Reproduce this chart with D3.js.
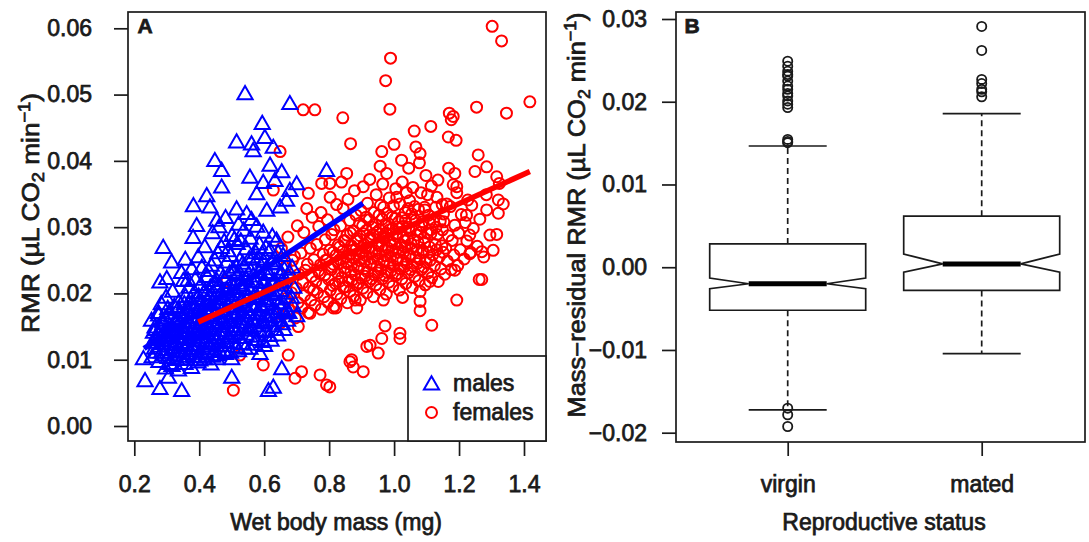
<!DOCTYPE html>
<html>
<head>
<meta charset="utf-8">
<script src="https://cdn.jsdelivr.net/npm/d3@7"></script>
<style>
  html, body { margin: 0; padding: 0; background: #fff; }
  svg { display: block; font-family: "Liberation Sans", Arial, sans-serif; }
  svg text { stroke: #1a1a1a; stroke-width: 0.75px; }
</style>
</head>
<body>
<svg id="chart" width="1089" height="542"></svg>
<script>
// Panel A: wet body mass (mg) vs RMR
const maleOuter = [
  [0.541,0.0502],[0.679,0.0487],[0.594,0.0457],[0.515,0.0429],[0.561,0.0426],[0.602,0.0436],[0.566,0.0416],[0.628,0.0421],
  [0.448,0.0401],[0.469,0.0386],[0.618,0.0394],[0.792,0.0386],[0.556,0.0376],[0.654,0.0384],[0.633,0.0371],[0.597,0.0368],
  [0.700,0.0366],[0.469,0.0361],[0.679,0.0356],[0.577,0.0351],[0.423,0.0348],[0.382,0.0333],[0.433,0.0331],[0.669,0.0341],
  [0.515,0.0328],[0.546,0.0321],[0.608,0.0326],[0.649,0.0331],[0.392,0.0303],[0.454,0.0311],
  [0.289,0.0270],[0.315,0.0248],[0.279,0.0218],[0.300,0.0223],[0.351,0.0220],[0.274,0.0172],[0.228,0.0102],[0.233,0.0069],
  [0.279,0.0057],[0.346,0.0054],[0.305,0.0074],[0.310,0.0095],[0.500,0.0074],[0.500,0.0102],[0.587,0.0110],[0.654,0.0087],
  [0.613,0.0054],[0.628,0.0059],[0.700,0.0167],[0.669,0.0175],[0.402,0.0100],[0.454,0.0102]
];
const maleCore = [
  [0.255,0.0105],[0.262,0.0118],[0.257,0.0127],[0.266,0.0135],[0.259,0.0142],[0.264,0.0150],[0.253,0.0160],
  [0.276,0.0098],[0.284,0.0112],[0.279,0.0121],[0.287,0.0130],[0.273,0.0138],[0.282,0.0147],[0.288,0.0155],[0.275,0.0168],[0.283,0.0185],
  [0.296,0.0088],[0.304,0.0104],[0.299,0.0116],[0.307,0.0124],[0.293,0.0133],[0.302,0.0141],[0.308,0.0152],[0.295,0.0163],[0.303,0.0178],[0.298,0.0195],
  [0.316,0.0092],[0.324,0.0108],[0.319,0.0119],[0.327,0.0128],[0.313,0.0137],[0.322,0.0146],[0.328,0.0156],[0.315,0.0166],[0.323,0.0181],[0.318,0.0204],
  [0.336,0.0085],[0.344,0.0101],[0.339,0.0114],[0.347,0.0125],[0.333,0.0134],[0.342,0.0143],[0.348,0.0151],[0.335,0.0161],[0.343,0.0172],[0.338,0.0188],[0.345,0.0232],
  [0.356,0.0095],[0.364,0.0110],[0.359,0.0122],[0.367,0.0131],[0.353,0.0140],[0.362,0.0149],[0.368,0.0158],[0.355,0.0168],[0.363,0.0179],[0.358,0.0196],[0.365,0.0221],[0.357,0.0252],
  [0.376,0.0089],[0.384,0.0105],[0.379,0.0118],[0.387,0.0129],[0.373,0.0138],[0.382,0.0147],[0.388,0.0156],[0.375,0.0165],[0.383,0.0175],[0.378,0.0186],[0.385,0.0202],[0.377,0.0238],[0.381,0.0285],
  [0.396,0.0097],[0.404,0.0112],[0.399,0.0124],[0.407,0.0135],[0.393,0.0145],[0.402,0.0154],[0.408,0.0163],[0.395,0.0172],[0.403,0.0183],[0.398,0.0197],[0.405,0.0214],[0.397,0.0256],
  [0.416,0.0102],[0.424,0.0117],[0.419,0.0129],[0.427,0.0140],[0.413,0.0150],[0.422,0.0159],[0.428,0.0168],[0.415,0.0178],[0.423,0.0190],[0.418,0.0205],[0.425,0.0226],[0.417,0.0271],
  [0.436,0.0094],[0.444,0.0113],[0.439,0.0126],[0.447,0.0138],[0.433,0.0148],[0.442,0.0157],[0.448,0.0166],[0.435,0.0176],[0.443,0.0187],[0.438,0.0199],[0.445,0.0215],[0.437,0.0243],[0.441,0.0292],
  [0.456,0.0108],[0.464,0.0122],[0.459,0.0134],[0.467,0.0145],[0.453,0.0155],[0.462,0.0164],[0.468,0.0174],[0.455,0.0185],[0.463,0.0197],[0.458,0.0211],[0.465,0.0232],[0.457,0.0262],[0.461,0.0301],
  [0.476,0.0115],[0.484,0.0128],[0.479,0.0140],[0.487,0.0151],[0.473,0.0161],[0.482,0.0171],[0.488,0.0181],[0.475,0.0193],[0.483,0.0206],[0.478,0.0222],[0.485,0.0248],[0.477,0.0279],[0.481,0.0315],
  [0.496,0.0112],[0.504,0.0126],[0.499,0.0139],[0.507,0.0150],[0.493,0.0160],[0.502,0.0170],[0.508,0.0180],[0.495,0.0191],[0.503,0.0203],[0.498,0.0217],[0.505,0.0236],[0.497,0.0258],[0.501,0.0288],
  [0.516,0.0120],[0.524,0.0134],[0.519,0.0146],[0.527,0.0157],[0.513,0.0167],[0.522,0.0177],[0.528,0.0188],[0.515,0.0200],[0.523,0.0213],[0.518,0.0229],[0.525,0.0251],[0.517,0.0276],[0.521,0.0305],
  [0.536,0.0125],[0.544,0.0139],[0.539,0.0151],[0.547,0.0162],[0.533,0.0172],[0.542,0.0183],[0.548,0.0195],[0.535,0.0208],[0.543,0.0223],[0.538,0.0242],[0.545,0.0268],[0.537,0.0296],
  [0.556,0.0118],[0.564,0.0136],[0.559,0.0149],[0.567,0.0161],[0.553,0.0172],[0.562,0.0183],[0.568,0.0194],[0.555,0.0206],[0.563,0.0219],[0.558,0.0235],[0.565,0.0256],[0.557,0.0284],[0.561,0.0312],
  [0.576,0.0131],[0.584,0.0145],[0.579,0.0158],[0.587,0.0170],[0.573,0.0181],[0.582,0.0193],[0.588,0.0205],[0.575,0.0218],[0.583,0.0233],[0.578,0.0252],[0.585,0.0275],[0.577,0.0302],
  [0.596,0.0128],[0.604,0.0143],[0.599,0.0156],[0.607,0.0168],[0.593,0.0180],[0.602,0.0192],[0.608,0.0204],[0.595,0.0217],[0.603,0.0232],[0.598,0.0249],[0.605,0.0270],[0.597,0.0293],
  [0.616,0.0137],[0.624,0.0152],[0.619,0.0165],[0.627,0.0177],[0.613,0.0189],[0.622,0.0201],[0.628,0.0214],[0.615,0.0229],[0.623,0.0246],[0.618,0.0266],[0.625,0.0287],
  [0.636,0.0146],[0.644,0.0160],[0.639,0.0173],[0.647,0.0186],[0.633,0.0199],[0.642,0.0213],[0.648,0.0228],[0.635,0.0245],[0.643,0.0262],[0.638,0.0281],
  [0.656,0.0155],[0.664,0.0171],[0.659,0.0186],[0.667,0.0201],[0.653,0.0218],[0.662,0.0237],[0.658,0.0258],
  [0.676,0.0172],[0.684,0.0195],[0.679,0.0231]
];
const maleDense = [
  [0.268,0.0112],[0.271,0.0131],[0.266,0.0146],
  [0.291,0.0108],[0.289,0.0125],[0.292,0.0143],[0.286,0.0160],
  [0.311,0.0112],[0.309,0.0129],[0.312,0.0146],[0.306,0.0171],
  [0.331,0.0101],[0.329,0.0123],[0.332,0.0141],[0.327,0.0160],[0.334,0.0176],
  [0.351,0.0106],[0.349,0.0127],[0.352,0.0145],[0.346,0.0163],[0.354,0.0185],
  [0.371,0.0114],[0.369,0.0134],[0.372,0.0152],[0.366,0.0171],[0.374,0.0192],[0.368,0.0210],
  [0.391,0.0117],[0.389,0.0140],[0.392,0.0160],[0.386,0.0179],[0.394,0.0193],[0.388,0.0222],
  [0.411,0.0121],[0.409,0.0143],[0.412,0.0165],[0.406,0.0186],[0.414,0.0201],[0.408,0.0240],
  [0.431,0.0125],[0.429,0.0146],[0.432,0.0168],[0.426,0.0189],[0.434,0.0210],[0.428,0.0235],
  [0.451,0.0129],[0.449,0.0151],[0.452,0.0171],[0.446,0.0192],[0.454,0.0220],[0.448,0.0251],
  [0.471,0.0133],[0.469,0.0156],[0.472,0.0177],[0.466,0.0200],[0.474,0.0225],[0.468,0.0270],
  [0.491,0.0136],[0.489,0.0158],[0.492,0.0182],[0.486,0.0206],[0.494,0.0232],[0.488,0.0265],
  [0.511,0.0141],[0.509,0.0163],[0.512,0.0186],[0.506,0.0210],[0.514,0.0240],[0.508,0.0282],
  [0.531,0.0145],[0.529,0.0167],[0.532,0.0191],[0.526,0.0216],[0.534,0.0246],[0.528,0.0280],
  [0.551,0.0148],[0.549,0.0171],[0.552,0.0196],[0.546,0.0222],[0.554,0.0253],
  [0.571,0.0152],[0.569,0.0176],[0.572,0.0200],[0.566,0.0227],[0.574,0.0262],
  [0.591,0.0157],[0.589,0.0181],[0.592,0.0206],[0.586,0.0233],[0.594,0.0261],
  [0.611,0.0160],[0.609,0.0184],[0.612,0.0210],[0.606,0.0238],
  [0.631,0.0166],[0.629,0.0192],[0.632,0.0220],[0.626,0.0250],
  [0.651,0.0178],[0.649,0.0205],[0.652,0.0232],
  [0.361,0.0102],[0.401,0.0106],[0.421,0.0110],[0.441,0.0106],[0.461,0.0114],[0.481,0.0110],[0.521,0.0114],[0.541,0.0118],
  [0.571,0.0124],[0.601,0.0122],[0.621,0.0130],[0.641,0.0138],[0.661,0.0146],[0.672,0.0160],[0.689,0.0182],[0.691,0.0210],[0.686,0.0240]
];
const femaleOuter = [
  [1.302,0.0603],[1.331,0.0581],[0.989,0.0555],[0.974,0.0521],[0.987,0.0478],[0.842,0.0465],[0.866,0.0426],[1.170,0.0472],
  [1.182,0.0467],[1.176,0.0462],[1.254,0.0481],[1.346,0.0472],[1.418,0.0489],[1.113,0.0452],[1.062,0.0445],[1.167,0.0436],
  [1.191,0.0431],[1.000,0.0425],[0.962,0.0414],[1.067,0.0421],[1.259,0.0409],[1.023,0.0401],[1.080,0.0411],[1.285,0.0391],
  [0.854,0.0381],[1.187,0.0381],[1.193,0.0361],[1.316,0.0376],[1.249,0.0384],[1.321,0.0341],[1.285,0.0326],[1.321,0.0321],[1.223,0.0318],
  [0.720,0.0477],[0.756,0.0477],[0.649,0.0414],[0.736,0.0351],[0.731,0.0328],[0.628,0.0356],[0.777,0.0366],[0.802,0.0366],
  [1.233,0.0288],[1.295,0.0288],[1.233,0.0260],[1.305,0.0265],[1.270,0.0263],[1.270,0.0221],[1.262,0.0221],[1.193,0.0190],
  [1.110,0.0218],[1.080,0.0203],[1.080,0.0188],[1.080,0.0174],[1.116,0.0152],[1.026,0.0194],[0.967,0.0190],[0.972,0.0151],
  [1.018,0.0140],[1.018,0.0132],[0.962,0.0132],[0.926,0.0122],[0.951,0.0110],[0.916,0.0120],[0.864,0.0097],[0.874,0.0089],
  [0.905,0.0082],[0.802,0.0059],[1.187,0.0235],[0.821,0.0178],[0.880,0.0190],
  [0.505,0.0054],[0.597,0.0092],[0.525,0.0107],[0.674,0.0107],[0.715,0.0082],[0.695,0.0072],[0.772,0.0077],[0.792,0.0062],
  [0.705,0.0150],[0.649,0.0155],[0.741,0.0170],[0.813,0.0178],[0.869,0.0100],[0.885,0.0178],[0.485,0.0218]
];
const femaleCore = [
  [0.656,0.0168],[0.664,0.0192],[0.659,0.0215],[0.667,0.0241],[0.653,0.0268],
  [0.676,0.0175],[0.684,0.0201],[0.679,0.0224],[0.687,0.0250],[0.673,0.0285],
  [0.696,0.0163],[0.704,0.0186],[0.699,0.0208],[0.707,0.0229],[0.693,0.0256],[0.702,0.0302],
  [0.716,0.0178],[0.724,0.0197],[0.719,0.0216],[0.727,0.0235],[0.713,0.0261],[0.722,0.0292],
  [0.736,0.0171],[0.744,0.0190],[0.739,0.0209],[0.747,0.0226],[0.733,0.0244],[0.742,0.0268],[0.748,0.0315],
  [0.756,0.0182],[0.764,0.0201],[0.759,0.0218],[0.767,0.0234],[0.753,0.0251],[0.762,0.0274],[0.768,0.0301],
  [0.776,0.0176],[0.784,0.0195],[0.779,0.0212],[0.787,0.0228],[0.773,0.0243],[0.782,0.0259],[0.788,0.0281],[0.775,0.0322],
  [0.796,0.0187],[0.804,0.0205],[0.799,0.0221],[0.807,0.0236],[0.793,0.0250],[0.802,0.0265],[0.808,0.0289],[0.795,0.0311],[0.803,0.0345],
  [0.816,0.0181],[0.824,0.0199],[0.819,0.0215],[0.827,0.0230],[0.813,0.0244],[0.822,0.0258],[0.828,0.0273],[0.815,0.0296],[0.823,0.0334],
  [0.836,0.0192],[0.844,0.0209],[0.839,0.0224],[0.847,0.0238],[0.833,0.0251],[0.842,0.0264],[0.848,0.0279],[0.835,0.0302],[0.843,0.0328],[0.838,0.0368],
  [0.856,0.0186],[0.864,0.0203],[0.859,0.0219],[0.867,0.0233],[0.853,0.0246],[0.862,0.0259],[0.868,0.0272],[0.855,0.0288],[0.863,0.0310],[0.858,0.0342],
  [0.876,0.0196],[0.884,0.0213],[0.879,0.0228],[0.887,0.0241],[0.873,0.0254],[0.882,0.0266],[0.888,0.0279],[0.875,0.0294],[0.883,0.0318],[0.878,0.0355],
  [0.896,0.0190],[0.904,0.0208],[0.899,0.0223],[0.907,0.0237],[0.893,0.0250],[0.902,0.0262],[0.908,0.0274],[0.895,0.0287],[0.903,0.0302],[0.898,0.0325],[0.905,0.0361],
  [0.916,0.0201],[0.924,0.0218],[0.919,0.0232],[0.927,0.0245],[0.913,0.0257],[0.922,0.0269],[0.928,0.0281],[0.915,0.0295],[0.923,0.0311],[0.918,0.0336],[0.925,0.0372],
  [0.936,0.0195],[0.944,0.0213],[0.939,0.0228],[0.947,0.0241],[0.933,0.0253],[0.942,0.0264],[0.948,0.0276],[0.935,0.0289],[0.943,0.0304],[0.938,0.0322],[0.945,0.0349],
  [0.956,0.0206],[0.964,0.0222],[0.959,0.0236],[0.967,0.0249],[0.953,0.0260],[0.962,0.0271],[0.968,0.0283],[0.955,0.0296],[0.963,0.0312],[0.958,0.0333],[0.965,0.0365],[0.957,0.0392],
  [0.976,0.0199],[0.984,0.0217],[0.979,0.0232],[0.987,0.0245],[0.973,0.0257],[0.982,0.0268],[0.988,0.0279],[0.975,0.0291],[0.983,0.0305],[0.978,0.0321],[0.985,0.0344],[0.977,0.0381],
  [0.996,0.0211],[1.004,0.0227],[0.999,0.0241],[1.007,0.0253],[0.993,0.0264],[1.002,0.0275],[1.008,0.0286],[0.995,0.0298],[1.003,0.0313],[0.998,0.0332],[1.005,0.0358],
  [1.016,0.0205],[1.024,0.0222],[1.019,0.0237],[1.027,0.0250],[1.013,0.0262],[1.022,0.0273],[1.028,0.0285],[1.015,0.0298],[1.023,0.0314],[1.018,0.0335],[1.025,0.0368],
  [1.036,0.0215],[1.044,0.0231],[1.039,0.0245],[1.047,0.0258],[1.033,0.0270],[1.042,0.0282],[1.048,0.0295],[1.035,0.0310],[1.043,0.0328],[1.038,0.0352],[1.045,0.0389],
  [1.056,0.0209],[1.064,0.0226],[1.059,0.0241],[1.067,0.0255],[1.053,0.0268],[1.062,0.0281],[1.068,0.0295],[1.055,0.0311],[1.063,0.0331],[1.058,0.0360],
  [1.076,0.0219],[1.084,0.0236],[1.079,0.0251],[1.087,0.0265],[1.073,0.0278],[1.082,0.0292],[1.088,0.0308],[1.075,0.0327],[1.083,0.0352],[1.078,0.0397],
  [1.096,0.0213],[1.104,0.0231],[1.099,0.0247],[1.107,0.0262],[1.093,0.0276],[1.102,0.0291],[1.108,0.0307],[1.095,0.0326],[1.103,0.0349],[1.098,0.0378],
  [1.116,0.0224],[1.124,0.0242],[1.119,0.0258],[1.127,0.0274],[1.113,0.0290],[1.122,0.0308],[1.128,0.0330],[1.115,0.0362],
  [1.136,0.0218],[1.144,0.0237],[1.139,0.0255],[1.147,0.0272],[1.133,0.0289],[1.142,0.0309],[1.148,0.0334],[1.135,0.0371],
  [1.156,0.0229],[1.164,0.0249],[1.159,0.0268],[1.167,0.0287],[1.153,0.0308],[1.162,0.0335],[1.168,0.0389],
  [1.176,0.0236],[1.184,0.0258],[1.179,0.0280],[1.187,0.0303],[1.173,0.0331],[1.182,0.0364],
  [1.196,0.0242],[1.204,0.0266],[1.199,0.0291],[1.207,0.0319],[1.193,0.0352],
  [1.216,0.0252],[1.224,0.0279],[1.219,0.0307],[1.227,0.0341],
  [1.236,0.0262],[1.244,0.0298],[1.239,0.0333],
  [1.256,0.0271],[1.264,0.0312],
  [1.276,0.0255],[1.284,0.0349],
  [1.316,0.0289],[1.324,0.0366],
  [1.336,0.0335]
];
const femaleDense = [
  [0.752,0.0205],[0.771,0.0230],[0.789,0.0250],
  [0.811,0.0212],[0.809,0.0240],[0.812,0.0262],
  [0.831,0.0218],[0.829,0.0245],[0.832,0.0270],
  [0.851,0.0210],[0.849,0.0232],[0.852,0.0255],[0.846,0.0280],
  [0.871,0.0220],[0.869,0.0243],[0.872,0.0265],[0.866,0.0291],
  [0.891,0.0216],[0.889,0.0238],[0.892,0.0259],[0.886,0.0283],[0.894,0.0306],
  [0.911,0.0226],[0.909,0.0248],[0.912,0.0268],[0.906,0.0290],[0.914,0.0315],
  [0.931,0.0222],[0.929,0.0244],[0.932,0.0263],[0.926,0.0284],[0.934,0.0300],
  [0.951,0.0231],[0.949,0.0252],[0.952,0.0272],[0.946,0.0292],[0.954,0.0318],
  [0.971,0.0227],[0.969,0.0248],[0.972,0.0266],[0.966,0.0286],[0.974,0.0302],[0.968,0.0330],
  [0.991,0.0234],[0.989,0.0255],[0.992,0.0273],[0.986,0.0296],[0.994,0.0315],
  [1.011,0.0230],[1.009,0.0250],[1.012,0.0268],[1.006,0.0290],[1.014,0.0308],[1.008,0.0345],
  [1.031,0.0240],[1.029,0.0262],[1.032,0.0279],[1.026,0.0301],[1.034,0.0322],
  [1.051,0.0236],[1.049,0.0256],[1.052,0.0275],[1.046,0.0300],[1.054,0.0320],[1.048,0.0340],
  [1.071,0.0245],[1.069,0.0265],[1.072,0.0288],[1.066,0.0310],
  [1.091,0.0240],[1.089,0.0262],[1.092,0.0284],[1.086,0.0302],[1.094,0.0330],
  [1.111,0.0250],[1.109,0.0270],[1.112,0.0296],[1.106,0.0318],
  [1.131,0.0266],[1.129,0.0300],[1.132,0.0345],
  [1.151,0.0262],[1.149,0.0296],[1.152,0.0320]
];
// fitted lines, endpoints as drawn
const maleFit = [[0.23,0.0117],[0.904,0.0336]];
const femaleFit = [[0.397,0.0157],[1.418,0.0384]];
const massTicks = [0.2,0.4,0.6,0.8,1.0,1.2,1.4];
const rmrTicks = [0,0.01,0.02,0.03,0.04,0.05,0.06];

// Panel B: notched boxplots of mass-residual RMR
const statusGroups = ['virgin','mated'];
const boxLow = [-0.01723,-0.01045];
const boxQ1 = [-0.0052,-0.0028];
const boxMedian = [-0.0020,0.0004];
const boxQ3 = [0.00282,0.00617];
const boxHigh = [0.01465,0.01856];
const notchLow = [-0.0026,-0.0006];
const notchHigh = [-0.0013,0.0016];
const virginOutliers = [0.0249,0.0243,0.0237,0.0233,0.0231,0.0225,0.0219,0.0215,0.0210,0.0207,0.0201,0.0197,0.0193,0.01545,0.0152,0.01505,-0.01703,-0.01783,-0.01925];
const matedOutliers = [0.0291,0.0262,0.0227,0.0222,0.0215,0.0212,0.0206];
const residTicks = [-0.02,-0.01,0,0.01,0.02,0.03];

const BLUE = '#0000ff', RED = '#ff0000', INK = '#1a1a1a';
const FS = 23;
const svg = d3.select('#chart');

// ---------- panel A ----------
const xA = d3.scaleLinear().domain([0.2, 1.4]).range([134.3, 524]);
const yA = d3.scaleLinear().domain([0, 0.06]).range([426, 28.3]);
const boxA = { l: 128, t: 12, r: 546, b: 441 };

const tri = d3.symbol().type(d3.symbolTriangle).size(100);
const pA = svg.append('g');
pA.selectAll('.fem').data(femaleOuter.concat(femaleCore, femaleDense)).join('circle')
  .attr('cx', d => xA(d[0])).attr('cy', d => yA(d[1])).attr('r', 5.5)
  .attr('fill', 'none').attr('stroke', RED).attr('stroke-width', 2);
pA.selectAll('.mal').data(maleOuter.concat(maleCore, maleDense)).join('path')
  .attr('d', tri).attr('transform', d => `translate(${xA(d[0])},${yA(d[1]) + 1.5})`)
  .attr('fill', 'none').attr('stroke', BLUE).attr('stroke-width', 2);

const fitLine = d3.line().x(d => xA(d[0])).y(d => yA(d[1]));
pA.append('path').attr('d', fitLine(maleFit)).attr('stroke', BLUE).attr('stroke-width', 5.5).attr('fill', 'none');
pA.append('path').attr('d', fitLine(femaleFit)).attr('stroke', RED).attr('stroke-width', 5.5).attr('fill', 'none');

svg.append('rect').attr('x', boxA.l).attr('y', boxA.t).attr('width', boxA.r - boxA.l).attr('height', boxA.b - boxA.t)
  .attr('fill', 'none').attr('stroke', INK).attr('stroke-width', 1.7);

const axA_x = svg.append('g').attr('transform', `translate(0,${boxA.b})`)
  .call(d3.axisBottom(xA).tickValues(massTicks).tickFormat(d3.format('.1f')).tickSize(15).tickPadding(20));
const axA_y = svg.append('g').attr('transform', `translate(${boxA.l},0)`)
  .call(d3.axisLeft(yA).tickValues(rmrTicks).tickFormat(d3.format('.2f')).tickSize(14).tickPadding(22));
[axA_x, axA_y].forEach(g => {
  g.select('.domain').remove();
  g.selectAll('line').attr('stroke', INK).attr('stroke-width', 1.7);
  g.selectAll('text').attr('font-size', FS).attr('fill', INK).attr('font-family', '"Liberation Sans", Arial, sans-serif');
});

svg.append('text').attr('x', 145).attr('y', 33).attr('font-size', 21).attr('font-weight', 'bold').attr('fill', INK)
  .attr('text-anchor', 'middle').text('A');

// legend
svg.append('rect').attr('x', 408).attr('y', 356).attr('width', boxA.r - 408).attr('height', boxA.b - 356)
  .attr('fill', '#fff').attr('stroke', INK).attr('stroke-width', 1.7);
svg.append('path').attr('d', tri).attr('transform', 'translate(431.5,385)')
  .attr('fill', 'none').attr('stroke', BLUE).attr('stroke-width', 2);
svg.append('circle').attr('cx', 431.5).attr('cy', 412.5).attr('r', 5.5)
  .attr('fill', 'none').attr('stroke', RED).attr('stroke-width', 2);
svg.append('text').attr('x', 453).attr('y', 391).attr('font-size', FS).attr('fill', INK).text('males');
svg.append('text').attr('x', 453).attr('y', 420).attr('font-size', FS).attr('fill', INK).text('females');

svg.append('text').attr('x', 336).attr('y', 530).attr('text-anchor', 'middle').attr('font-size', FS).attr('fill', INK)
  .text('Wet body mass (mg)');

function unitLabel(x, y, prefix, len) {
  const t = svg.append('text').attr('transform', `translate(${x},${y}) rotate(-90)`)
    .attr('text-anchor', 'middle').attr('font-size', FS).attr('fill', INK)
    .attr('textLength', len).attr('lengthAdjust', 'spacingAndGlyphs');
  t.append('tspan').text(prefix + '(\u00b5L CO');
  t.append('tspan').attr('font-size', 16).attr('dy', 5).text('2');
  t.append('tspan').attr('dy', -5).text(' min');
  t.append('tspan').attr('font-size', 16).attr('dy', -9).text('\u22121');
  t.append('tspan').attr('dy', 9).text(')');
}
unitLabel(39, 213, 'RMR ', 240);

// ---------- panel B ----------
const boxB = { l: 676, t: 12, r: 1085, b: 442 };
const xB = d3.scalePoint().domain(statusGroups).range([787.7, 981.7]);
const yB = d3.scaleLinear().domain([-0.02, 0.03]).range([432.7, 19]);
const halfW = 78, nf = 0.5;

const pB = svg.append('g');
statusGroups.forEach((g, i) => {
  const cx = xB(g);
  // dashed whiskers
  pB.append('line').attr('x1', cx).attr('x2', cx).attr('y1', yB(boxQ3[i])).attr('y2', yB(boxHigh[i]))
    .attr('stroke', INK).attr('stroke-width', 1.7).attr('stroke-dasharray', '6,4');
  pB.append('line').attr('x1', cx).attr('x2', cx).attr('y1', yB(boxQ1[i])).attr('y2', yB(boxLow[i]))
    .attr('stroke', INK).attr('stroke-width', 1.7).attr('stroke-dasharray', '6,4');
  [boxHigh[i], boxLow[i]].forEach(v => {
    pB.append('line').attr('x1', cx - halfW / 2).attr('x2', cx + halfW / 2).attr('y1', yB(v)).attr('y2', yB(v))
      .attr('stroke', INK).attr('stroke-width', 1.7);
  });
  // notched box, R's bxp polygon
  const xs = [-1, 1, 1, nf, 1, 1, -1, -1, -nf, -1].map(k => cx + k * halfW);
  const ys = [boxQ1[i], boxQ1[i], notchLow[i], boxMedian[i], notchHigh[i], boxQ3[i], boxQ3[i], notchHigh[i], boxMedian[i], notchLow[i]].map(yB);
  pB.append('path').attr('d', d3.line()(xs.map((x, k) => [x, ys[k]])) + 'Z')
    .attr('fill', '#fff').attr('stroke', INK).attr('stroke-width', 1.7);
  pB.append('line').attr('x1', cx - halfW * nf).attr('x2', cx + halfW * nf)
    .attr('y1', yB(boxMedian[i])).attr('y2', yB(boxMedian[i])).attr('stroke', '#000').attr('stroke-width', 5);
});
const outl = [].concat(virginOutliers.map(v => ['virgin', v]), matedOutliers.map(v => ['mated', v]));
pB.selectAll('.out').data(outl).join('circle')
  .attr('cx', d => xB(d[0])).attr('cy', d => yB(d[1])).attr('r', 4.6)
  .attr('fill', 'none').attr('stroke', INK).attr('stroke-width', 1.8);

svg.append('rect').attr('x', boxB.l).attr('y', boxB.t).attr('width', boxB.r - boxB.l).attr('height', boxB.b - boxB.t)
  .attr('fill', 'none').attr('stroke', INK).attr('stroke-width', 1.7);

const axB_x = svg.append('g').attr('transform', `translate(0,${boxB.b})`)
  .call(d3.axisBottom(xB).tickSize(14).tickPadding(20));
const axB_y = svg.append('g').attr('transform', `translate(${boxB.l},0)`)
  .call(d3.axisLeft(yB).tickValues(residTicks).tickFormat(d => d === 0 ? '0.00' : d3.format('.2f')(d).replace('-', '\u2212')).tickSize(14).tickPadding(15));
[axB_x, axB_y].forEach(g => {
  g.select('.domain').remove();
  g.selectAll('line').attr('stroke', INK).attr('stroke-width', 1.7);
  g.selectAll('text').attr('font-size', FS).attr('fill', INK).attr('font-family', '"Liberation Sans", Arial, sans-serif');
});

svg.append('text').attr('x', 692).attr('y', 33).attr('font-size', 21).attr('font-weight', 'bold').attr('fill', INK)
  .attr('text-anchor', 'middle').text('B');
svg.append('text').attr('x', 884).attr('y', 530).attr('text-anchor', 'middle').attr('font-size', FS).attr('fill', INK)
  .text('Reproductive status');
unitLabel(585, 215, 'Mass\u2212residual RMR ', 405);
</script>
</body>
</html>
